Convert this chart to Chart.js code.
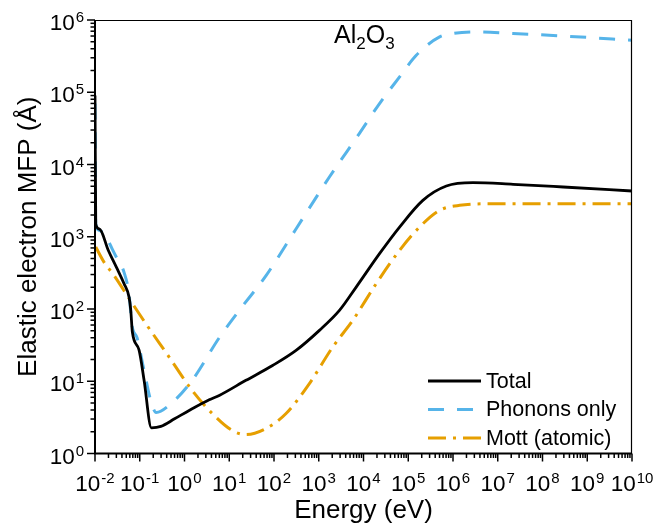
<!DOCTYPE html>
<html>
<head>
<meta charset="utf-8">
<script src="https://cdn.jsdelivr.net/npm/chart.js@4.4.1/dist/chart.umd.min.js"></script>
<style>
  html, body { margin: 0; padding: 0; background: #fff; }
  #wrap { width: 664px; height: 526px; }
</style>
</head>
<body>
<div id="wrap"><canvas id="mfpChart" width="664" height="526"></canvas></div>
<script>
// Elastic electron mean free path in Al2O3 vs energy

// Total
const energyTotal = [0.01, 0.0104, 0.0125, 0.02, 0.03, 0.0446, 0.0577, 0.063, 0.0684, 0.0966, 0.125, 0.182,
    0.296, 0.6, 1.27, 3.57, 5.97, 23.6, 93, 311, 1035, 2900, 6860, 22800, 64000, 212000, 710000,
    2.8e6, 2.2e7, 2.9e8, 1e10];
const mfpTotal = [9e4, 1500, 1280, 640, 380, 224, 146, 96, 48, 27, 10.3, 2.27,
    2.37, 3.02, 3.94, 5.54, 6.36, 10.3, 16.5, 26.7, 50.6, 95.6, 201, 583, 1362, 3190, 5040,
    5610, 5320, 4880, 4300];

// Phonons only
const energyPhonon = [0.01, 0.0104, 0.0123, 0.0311, 0.0446, 0.0577, 0.0673, 0.087, 0.125, 0.18, 0.232,
    0.5, 1.48, 5.97, 16.7, 67, 300, 1730, 8130, 22800, 64000, 151000, 502000, 1e6, 3.33e6, 2.2e7,
    3.4e8, 1e10];
const mfpPhonon = [7e4, 1500, 1227, 502, 321, 159, 59, 40, 14, 5.1, 3.7,
    4.9, 10.3, 40, 95.6, 292, 1240, 6710, 27000, 69700, 163000, 325000, 583000, 650000, 684000, 650000,
    597000, 525000];

// Mott (atomic)
const energyMott = [0.0104, 0.0159, 0.0266, 0.0577, 0.136, 0.454, 1.48, 4.16, 11.7, 23.6, 66, 186, 618,
    2050, 5750, 19200, 64000, 179000, 502000, 1.41e6, 9.3e6, 1e10];
const mfpMott = [720, 446, 292, 140, 63, 21.6, 7.46, 3.58, 2.08, 1.83, 2.22, 3.58, 9.3,
    29.7, 69.5, 224, 648, 1362, 2320, 2720, 2870, 2870];

const seriesNames = ['Total', 'Phonons only', 'Mott (atomic)'];
const xTickExps = [-2, -1, 0, 1, 2, 3, 4, 5, 6, 7, 8, 9, 10];
const yTickExps = [0, 1, 2, 3, 4, 5, 6];

const FONT = '"Liberation Sans", Arial, sans-serif';

function toPoints(xs, ys) {
    return xs.map((x, i) => ({ x: x, y: ys[i] }));
}

// draws "10" with a raised exponent; align = 'center' or 'right'
function drawPow(ctx, exp, x, y, align) {
    const base = '10';
    const sup = String(exp);
    ctx.font = '22.5px ' + FONT;
    const wb = ctx.measureText(base).width;
    ctx.font = '15px ' + FONT;
    const ws = ctx.measureText(sup).width;
    const total = wb + ws + 1;
    let x0 = align === 'center' ? x - total / 2 : x - total;
    ctx.textAlign = 'left';
    ctx.textBaseline = 'alphabetic';
    ctx.font = '22.5px ' + FONT;
    ctx.fillText(base, x0, y);
    ctx.font = '15px ' + FONT;
    ctx.fillText(sup, x0 + wb + 1, y - 8);
}

const framePlugin = {
    id: 'frame',
    afterDraw(chart) {
        const ctx = chart.ctx;
        const a = chart.chartArea;
        const xs = chart.scales.x;
        const ys = chart.scales.y;
        ctx.save();
        ctx.fillStyle = '#000';
        ctx.strokeStyle = '#000';

        // thin box on top / right
        ctx.lineWidth = 1.2;
        ctx.beginPath();
        ctx.moveTo(a.left, a.top + 0.5);
        ctx.lineTo(a.right - 0.5, a.top + 0.5);
        ctx.lineTo(a.right - 0.5, a.bottom);
        ctx.stroke();

        // main axes
        ctx.lineWidth = 2;
        ctx.beginPath();
        ctx.moveTo(a.left, a.top);
        ctx.lineTo(a.left, a.bottom);
        ctx.lineTo(a.right, a.bottom);
        ctx.stroke();

        // x ticks (outward, below axis)
        ctx.lineWidth = 1.5;
        xTickExps.forEach((e, i) => {
            const px = xs.getPixelForValue(Math.pow(10, e));
            ctx.beginPath();
            ctx.moveTo(px, a.bottom);
            ctx.lineTo(px, a.bottom + 8);
            ctx.stroke();
            if (i < xTickExps.length - 1) {
                for (let m = 2; m <= 9; m++) {
                    const mx = xs.getPixelForValue(m * Math.pow(10, e));
                    ctx.beginPath();
                    ctx.moveTo(mx, a.bottom);
                    ctx.lineTo(mx, a.bottom + 4.5);
                    ctx.stroke();
                }
            }
            drawPow(ctx, e, px, a.bottom + 37, 'center');
        });

        // y ticks (outward, left of axis)
        yTickExps.forEach((e, i) => {
            const py = ys.getPixelForValue(Math.pow(10, e));
            ctx.beginPath();
            ctx.moveTo(a.left, py);
            ctx.lineTo(a.left - 8, py);
            ctx.stroke();
            if (i < yTickExps.length - 1) {
                for (let m = 2; m <= 9; m++) {
                    const my = ys.getPixelForValue(m * Math.pow(10, e));
                    ctx.beginPath();
                    ctx.moveTo(a.left, my);
                    ctx.lineTo(a.left - 4.5, my);
                    ctx.stroke();
                }
            }
            drawPow(ctx, e, a.left - 11, py + 10, 'right');
        });

        // axis titles
        ctx.font = '26px ' + FONT;
        ctx.textAlign = 'center';
        ctx.textBaseline = 'alphabetic';
        ctx.fillText('Energy (eV)', (a.left + a.right) / 2, 518);
        ctx.save();
        ctx.translate(36, (a.top + a.bottom) / 2);
        ctx.rotate(-Math.PI / 2);
        ctx.fillText('Elastic electron MFP (\u00C5)', 0, 0);
        ctx.restore();

        // material label
        ctx.textAlign = 'left';
        let tx = 334;
        const ty = 43;
        [['Al', 25, 0], ['2', 17, 6], ['O', 25, 0], ['3', 17, 6]].forEach(p => {
            ctx.font = p[1] + 'px ' + FONT;
            ctx.fillText(p[0], tx, ty + p[2]);
            tx += ctx.measureText(p[0]).width;
        });

        // legend
        const rows = [381, 409.5, 438];
        chart.data.datasets.forEach((ds, i) => {
            const ly = rows[i];
            ctx.save();
            ctx.strokeStyle = ds.borderColor;
            ctx.lineWidth = ds.borderWidth;
            ctx.setLineDash(ds.borderDash || []);
            ctx.beginPath();
            ctx.moveTo(428, ly);
            ctx.lineTo(481, ly);
            ctx.stroke();
            ctx.restore();
            ctx.font = '21.5px ' + FONT;
            ctx.textBaseline = 'middle';
            ctx.fillStyle = '#000';
            ctx.fillText(ds.label, 486, ly + 1);
        });

        ctx.restore();
    }
};

const ctx = document.getElementById('mfpChart').getContext('2d');
new Chart(ctx, {
    type: 'line',
    data: {
        datasets: [
            {
                label: seriesNames[0],
                data: toPoints(energyTotal, mfpTotal),
                borderColor: '#000000',
                borderWidth: 2.8,
                pointRadius: 0,
                cubicInterpolationMode: 'monotone',
                order: 0
            },
            {
                label: seriesNames[1],
                data: toPoints(energyPhonon, mfpPhonon),
                borderColor: '#56B4E9',
                borderWidth: 3,
                borderDash: [16, 13],
                pointRadius: 0,
                cubicInterpolationMode: 'monotone',
                order: 1
            },
            {
                label: seriesNames[2],
                data: toPoints(energyMott, mfpMott),
                borderColor: '#E69F00',
                borderWidth: 3,
                borderDash: [18, 7, 3, 7],
                pointRadius: 0,
                cubicInterpolationMode: 'monotone',
                order: 2
            }
        ]
    },
    options: {
        responsive: false,
        animation: false,
        events: [],
        layout: { padding: { top: 20, right: 32, left: 0, bottom: 0 } },
        plugins: { legend: { display: false }, tooltip: { enabled: false } },
        scales: {
            x: {
                type: 'logarithmic',
                min: 1e-2,
                max: 1e10,
                grid: { display: false },
                border: { display: false },
                ticks: { display: false },
                afterFit(scale) { scale.height = 72.5; }
            },
            y: {
                type: 'logarithmic',
                min: 1,
                max: 1e6,
                grid: { display: false },
                border: { display: false },
                ticks: { display: false },
                afterFit(scale) { scale.width = 95; }
            }
        }
    },
    plugins: [framePlugin]
});
</script>
</body>
</html>
